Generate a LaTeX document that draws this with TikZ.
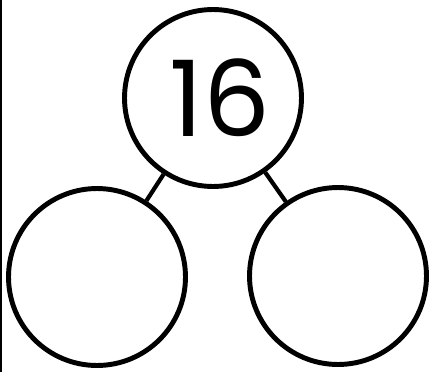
\documentclass[tikz,border=0pt]{standalone}
\usepackage{fontspec}
\newfontfamily\numfont{Poppins}
\usetikzlibrary{positioning}
\tikzset{
    bond/.style = {circle, draw, line width=2.8pt, inner sep=0pt, minimum size=3.54cm},
    link/.style = {line width=2.4pt}
}

\begin{document}
\begin{tikzpicture}[x=0.02cm, y=-0.02cm]
\useasboundingbox (0,0) rectangle (432,372);
% Number bond
\node[bond] (whole) at (213, 98) {\numfont\fontsize{60}{60}\selectfont\hspace{8pt}16};
\node[bond] (partA) at (97, 277) {};
\node[bond] (partB) at (338, 276) {};

% Connectors
\draw[link] (whole) -- (partA);
\draw[link] (whole) -- (partB);

% Left margin rule
\coordinate (edgetop) at (1, 0);
\coordinate (edgebot) at (1, 372);
\draw[line width=1.2pt] (edgetop) -- (edgebot);
\end{tikzpicture}
\end{document}
